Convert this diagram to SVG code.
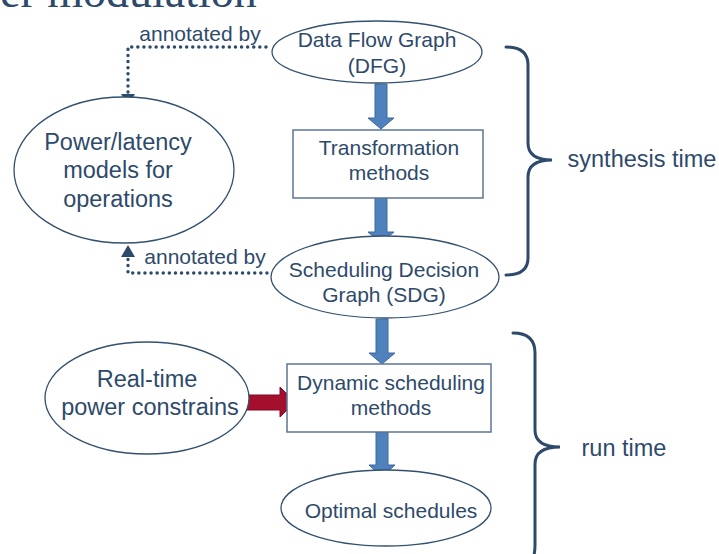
<svg xmlns="http://www.w3.org/2000/svg" width="719" height="554" viewBox="0 0 719 554">
<style>
text{font-family:"Liberation Sans",Arial,sans-serif;fill:#2e4a6b;text-anchor:middle}
.n{font-size:21px}
.b{font-size:23.5px}
.node ellipse{fill:#fff;stroke:#34506f;stroke-width:1.3}
.node rect{fill:#fff;stroke:#5b7594;stroke-width:1.5}
.dot{fill:none;stroke:#2e4a6b;stroke-width:3.4;stroke-linecap:round;stroke-dasharray:0.1 6}
.blue{fill:#4f81bd;stroke:#3d6a9e;stroke-width:1}
.brace{fill:none;stroke:#2e4a6b;stroke-width:3;stroke-linecap:round}
</style>
<rect width="719" height="554" fill="#fff"/>
<text x="0" y="7" style="font-family:'Liberation Serif','DejaVu Serif',serif;font-size:46px;text-anchor:start;fill:#2e4a6b">er modulation</text>

<g id="connectors">
  <path class="dot" d="M266 47 H128 V94"/>
  <path d="M121 94 L135 94 L128 106 Z" fill="#2e4a6b"/>
  <path class="dot" d="M267 273 H128 V258"/>
  <path d="M121 257 L135 257 L128 245 Z" fill="#2e4a6b"/>
  <path class="blue" d="M375 84 H387 V118 H394 L381 129 L368 118 H375 Z"/>
  <path class="blue" d="M375 198 H387 V232 H394 L381 243 L368 232 H375 Z"/>
  <path class="blue" d="M376 319 H388 V353 H395 L382 364 L369 353 H376 Z"/>
  <path class="blue" d="M376 432 H388 V465 H395 L382 477 L369 465 H376 Z"/>
  <path d="M241 395 H280 V387 L295 402 L280 417 V410 H241 Z" fill="#a50f2e" stroke="#7f0b22" stroke-width="1"/>
  <text class="n" x="200" y="41">annotated by</text>
  <text class="n" x="205" y="264">annotated by</text>
</g>

<g id="dfg" class="node">
  <ellipse cx="377" cy="52" rx="105" ry="31"/>
  <text class="n" x="377" y="47">Data Flow Graph</text>
  <text class="n" x="377" y="73">(DFG)</text>
</g>
<g id="transform" class="node">
  <rect x="293" y="130" width="190" height="68"/>
  <text class="n" x="389" y="155">Transformation</text>
  <text class="n" x="389" y="180">methods</text>
</g>
<g id="sdg" class="node">
  <ellipse cx="385" cy="277" rx="114" ry="41"/>
  <text class="n" x="384" y="277">Scheduling Decision</text>
  <text class="n" x="384" y="302">Graph (SDG)</text>
</g>
<g id="dynamic" class="node">
  <rect x="287" y="364" width="204" height="68"/>
  <text class="n" x="391" y="390">Dynamic scheduling</text>
  <text class="n" x="391" y="415">methods</text>
</g>
<g id="optimal" class="node">
  <ellipse cx="386" cy="508" rx="105" ry="38"/>
  <text class="n" x="391" y="518">Optimal schedules</text>
</g>
<g id="models" class="node">
  <ellipse cx="124" cy="170" rx="110" ry="73"/>
  <text class="b" x="118" y="150">Power/latency</text>
  <text class="b" x="118" y="178">models for</text>
  <text class="b" x="118" y="207">operations</text>
</g>
<g id="realtime" class="node">
  <ellipse cx="147" cy="398" rx="102" ry="56"/>
  <text class="b" x="147" y="387">Real-time</text>
  <text class="b" x="150" y="415">power constrains</text>
</g>

<g id="synthesis">
  <path class="brace" d="M506 47 Q528 47 528 65 V143 Q528 160 552 160 Q528 160 528 177 V258 Q528 275 506 275"/>
  <text class="b" x="642" y="167">synthesis time</text>
</g>
<g id="runtime">
  <path class="brace" d="M513 333 Q535 333 535 353 V430 Q535 447 560 447 Q535 447 535 464 V545 Q535 560 528 566"/>
  <text class="b" x="624" y="456">run time</text>
</g>
</svg>
